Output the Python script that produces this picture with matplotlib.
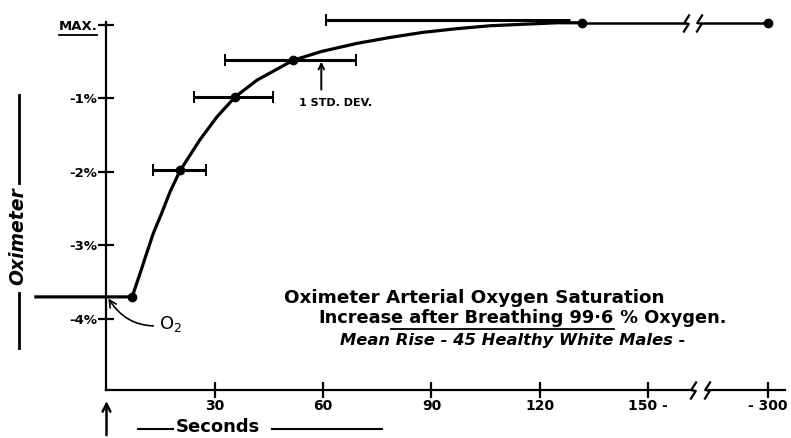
import numpy as np
import matplotlib.pyplot as plt
from matplotlib.path import Path

# values
curve_sec = [-20, 7.1, 9.3, 11.1, 13.0, 15.3, 17.6, 20.4, 25.9, 30.6, 35.6, 41.7,
             51.7, 59.6, 69.4, 78.5, 87.7, 97.1, 106.3, 115.5, 124.8, 131.7]
curve_val = [-3.70, -3.70, -3.38, -3.11, -2.83, -2.56, -2.27, -1.98, -1.56, -1.25, -0.98, -0.75,
             -0.48, -0.36, -0.25, -0.17, -0.10, -0.05, -0.01, 0.01, 0.03, 0.03]

plateau_sec = [131.7, 196, 216, 300]
plateau_val = 0.03

point_sec = [7.1, 20.4, 35.6, 51.7, 131.7, 300]
point_val = [-3.70, -1.98, -0.98, -0.48, 0.03, 0.03]

err_val = [-1.98, -0.98, -0.48]
err_lo = [12.9, 24.2, 32.8]
err_hi = [27.6, 46.2, 69.1]
top_bar = (60.9, 128.4, 0.07)   # bar above the plateau, left cap only

xtick_pos = [30, 60, 90, 120, 150, 300]
xtick_lab = ['30', '60', '90', '120', '150 -', '- 300']
ytick_pos = [0, -1, -2, -3, -4]
ytick_lab = ['MAX.', '-1%', '-2%', '-3%', '-4%']

K = 0.2215  # compression of the axis past the break at 150 s


def fwd(x):
    x = np.asarray(x, dtype=float)
    return np.where(x <= 150, x, 150 + (x - 150) * K)


def inv(x):
    x = np.asarray(x, dtype=float)
    return np.where(x <= 150, x, 150 + (x - 150) / K)


fig = plt.figure(figsize=(7.91, 4.38), dpi=100)
ax = fig.add_axes([0, 0, 1, 1])
ax.set_xscale('function', functions=(fwd, inv))
ax.set_xlim(-29.5, 328.8)
ax.set_ylim(-5.62, 0.34)
ax.patch.set_alpha(0)

y_axis = -4.97
for s in ['top', 'right']:
    ax.spines[s].set_visible(False)
ax.spines['left'].set_position(('data', 0))
ax.spines['left'].set_bounds(y_axis, 0.04)
ax.spines['bottom'].set_position(('data', y_axis))
ax.spines['bottom'].set_bounds(0, 321)
for s in ['left', 'bottom']:
    ax.spines[s].set_linewidth(1.6)

lettering = dict(family='DejaVu Sans', fontweight='bold')
ax.set_xticks(xtick_pos)
ax.set_xticklabels(xtick_lab, fontsize=10, **lettering)
ax.set_yticks(ytick_pos)
ax.set_yticklabels(ytick_lab, fontsize=9.5, **lettering)
ax.xaxis.set_minor_locator(plt.NullLocator())
ax.tick_params(axis='both', direction='inout', length=11, width=1.6, pad=1)

# mean curve, plateau with a break
ax.plot(curve_sec, curve_val, color='black', lw=2.3, solid_capstyle='butt', solid_joinstyle='round')
ax.plot(plateau_sec[:2], [plateau_val] * 2, color='black', lw=1.8)
ax.plot(plateau_sec[2:], [plateau_val] * 2, color='black', lw=1.8)
ax.plot(point_sec, point_val, 'o', color='black', ms=6)

# standard deviation bars
ax.hlines(err_val, err_lo, err_hi, color='black', lw=2.2)
ax.plot(err_lo + err_hi, err_val + err_val, '|', color='black', ms=9, mew=1.4)
ax.hlines(top_bar[2], top_bar[0], top_bar[1], color='black', lw=2.2)
ax.plot(top_bar[0], top_bar[2], '|', color='black', ms=9, mew=1.4)

# break marks
zig = Path([(0.35, 1.0), (-0.25, 0.05), (0.25, -0.05), (-0.35, -1.0)],
           [Path.MOVETO, Path.LINETO, Path.LINETO, Path.LINETO])
ax.plot([206, 225], [y_axis, y_axis], color='white', lw=4, zorder=3, solid_capstyle='butt')
ax.plot([198, 214], [plateau_val] * 2, ls='none', marker=zig, ms=13, mfc='none',
        mec='black', mew=1.6)
ax.plot([206, 224], [y_axis, y_axis], ls='none', marker=zig, ms=13, mfc='none', mec='black',
        mew=1.6, zorder=4, clip_on=False)

# annotations
ax.text(63.4, -1.06, '1 STD. DEV.', ha='center', va='center', fontsize=8, **lettering)
ax.annotate('', xy=(59.5, -0.5), xytext=(59.5, -0.88),
            arrowprops=dict(arrowstyle='->', lw=1.4, color='black', shrinkA=0, shrinkB=0))
ax.annotate('O$_2$', xy=(0.5, -3.72), xytext=(14.5, -4.07), ha='left', va='center',
            fontsize=13, family='DejaVu Sans',
            arrowprops=dict(arrowstyle='->', lw=1.2, color='black',
                            connectionstyle='arc3,rad=-0.35', shrinkA=2, shrinkB=0))

ax.text(-24.5, -2.87, 'Oximeter', rotation=90, ha='center', va='center', fontsize=13.5,
        fontstyle='italic', **lettering)
ax.plot([-24.2, -24.2], [-0.95, -2.15], color='black', lw=2)
ax.plot([-24.2, -24.2], [-3.65, -4.4], color='black', lw=2)

ax.text(30.9, -5.47, 'Seconds', ha='center', va='center', fontsize=13, **lettering)
ax.plot([8.7, 18.4], [-5.5, -5.5], color='black', lw=1.5, clip_on=False)
ax.plot([45.8, 76.3], [-5.5, -5.5], color='black', lw=1.5, clip_on=False)
ax.annotate('', xy=(0, -5.08), xytext=(0, -5.62),
            arrowprops=dict(arrowstyle='->', lw=1.8, color='black', mutation_scale=14))

ax.text(102, -3.71, 'Oximeter Arterial Oxygen Saturation', ha='center', va='center',
        fontsize=13.2, **lettering)
t1 = ax.text(58.6, -3.99, 'Increas', ha='left', va='center', fontsize=12.8, **lettering)
t2 = ax.annotate('e after Breathing 99\u00b76', xy=(1, 0), xycoords=t1, va='bottom',
                 fontsize=12.8, **lettering)
t3 = ax.annotate(' % Oxygen.', xy=(1, 0), xycoords=t2, va='bottom', fontsize=12.8, **lettering)
ax.text(112.6, -4.29, 'Mean Rise - 45 Healthy White Males -', ha='center', va='center',
        fontsize=11.8, fontstyle='italic', **lettering)

# underlines, measured after layout
fig.canvas.draw()
inv_fig = fig.transFigure.inverted()
for artist in [t2, ax.get_yticklabels()[0]]:
    bb = artist.get_window_extent().transformed(inv_fig)
    fig.add_artist(plt.Line2D([bb.x0, bb.x1], [bb.y0 - 0.004, bb.y0 - 0.004],
                              color='black', lw=1.3, transform=fig.transFigure))

fig.savefig('out.png', dpi=100)
